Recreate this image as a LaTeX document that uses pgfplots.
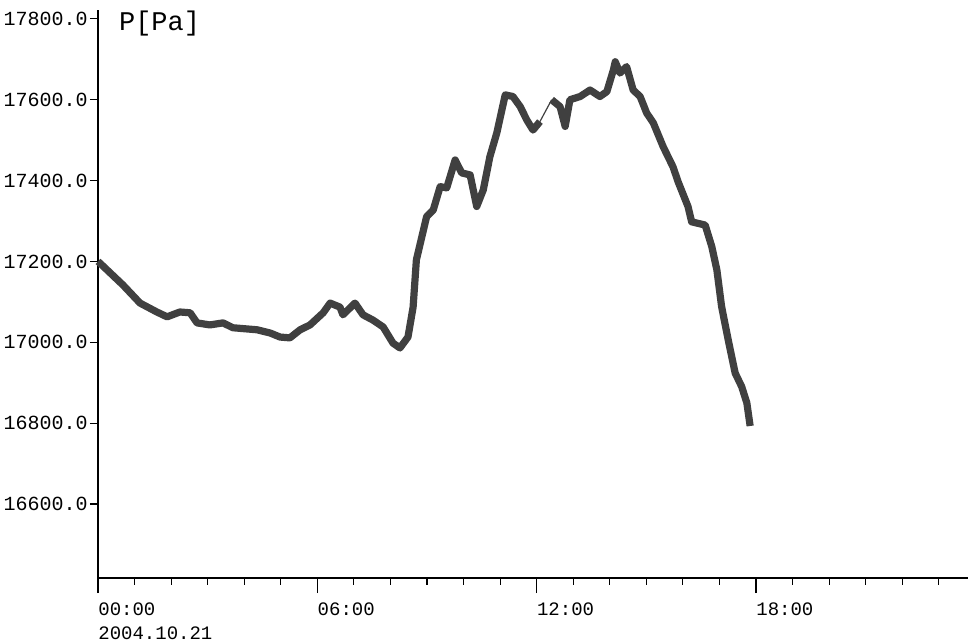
\documentclass[border=0pt]{standalone}
\usepackage{fontspec}
\setmainfont{Liberation Mono}
\setmonofont{Liberation Mono}
\usepackage{pgfplots}
\pgfplotsset{compat=1.18}
\definecolor{linegray}{RGB}{64,64,64}
\begin{document}
\begin{tikzpicture}
\begin{axis}[
  at={(0,0)}, anchor=south west,
  scale only axis, width=435pt, height=284pt,
  xmin=0, xmax=23.8, ymin=16417, ymax=17822,
  axis x line=bottom, axis y line=left,
  axis line style={-, line width=0.6pt, black},
  xtick={0,6,12,18},
  xticklabels={{00:00\\2004.10.21},{06:00},{12:00},{18:00}},
  minor xtick={1,2,3,4,5,7,8,9,10,11,13,14,15,16,17,19,20,21,22,23},
  ytick={16600,16800,17000,17200,17400,17600,17800},
  scaled y ticks=false,
  tick align=outside,
  major tick length=7.5pt, minor tick length=3.5pt,
  ytick style={/pgfplots/major tick length=4pt, black, line width=0.6pt},
  xtick style={black, line width=0.6pt},
  minor tick style={black, line width=0.6pt},
  yticklabel={\pgfmathprintnumber[fixed,fixed zerofill,precision=1,1000 sep={},assume math mode=true]{\tick}},
  yticklabel style={font=\fontsize{10}{12}\selectfont, inner sep=1pt, xshift=3.5pt},
  xticklabel style={font=\fontsize{9.5}{12}\selectfont, anchor=north west, align=left, inner sep=0pt, yshift=-4.5pt},
  ylabel={P[Pa]},
  every axis y label/.style={at={(axis description cs:0,1)}, anchor=west, xshift=7pt, yshift=-7pt, font=\fontsize{13.5}{15}\selectfont},
  clip=false,
]
\addplot[linegray, line width=3.6pt, line join=round, line cap=butt] coordinates {
(0.00,17200) (0.05,17196) (0.33,17172) (0.68,17142) (1.15,17097) (1.61,17075)
(1.89,17063) (2.24,17075) (2.52,17073) (2.71,17048) (3.06,17043) (3.42,17048)
(3.69,17036) (4.35,17031) (4.71,17023) (4.98,17013) (5.25,17011) (5.53,17031)
(5.80,17043) (6.16,17073) (6.35,17097) (6.62,17087) (6.70,17068) (7.03,17097)
(7.25,17068) (7.52,17055) (7.80,17038) (8.07,16998) (8.26,16986) (8.48,17013)
(8.62,17087) (8.71,17204) (8.99,17311) (9.17,17327) (9.36,17385) (9.54,17382)
(9.77,17451) (9.95,17419) (10.18,17414) (10.36,17336) (10.54,17377) (10.72,17459)
(10.91,17518) (11.14,17612) (11.35,17608) (11.55,17583) (11.73,17550) (11.90,17525)
(12.09,17546)
};
\addplot[linegray, line width=0.6pt] coordinates {(12.09,17546) (12.41,17600)};
\addplot[linegray, line width=3.6pt, line join=round, line cap=butt] coordinates {
(12.41,17600) (12.64,17583) (12.78,17534) (12.91,17600) (13.19,17608) (13.46,17624)
(13.73,17608) (13.92,17620) (14.10,17674) (14.15,17694) (14.28,17666) (14.46,17682)
(14.64,17624) (14.83,17608) (15.01,17567) (15.19,17543) (15.46,17484) (15.73,17434)
(15.87,17397) (16.14,17336) (16.24,17298) (16.61,17290) (16.79,17237) (16.93,17179)
(17.06,17088) (17.24,17006) (17.43,16924) (17.61,16890) (17.75,16850) (17.84,16793)
};
\end{axis}
\pgfresetboundingbox
\path (-49pt,-31.5pt) rectangle (435pt,289pt);
\end{tikzpicture}
\end{document}
